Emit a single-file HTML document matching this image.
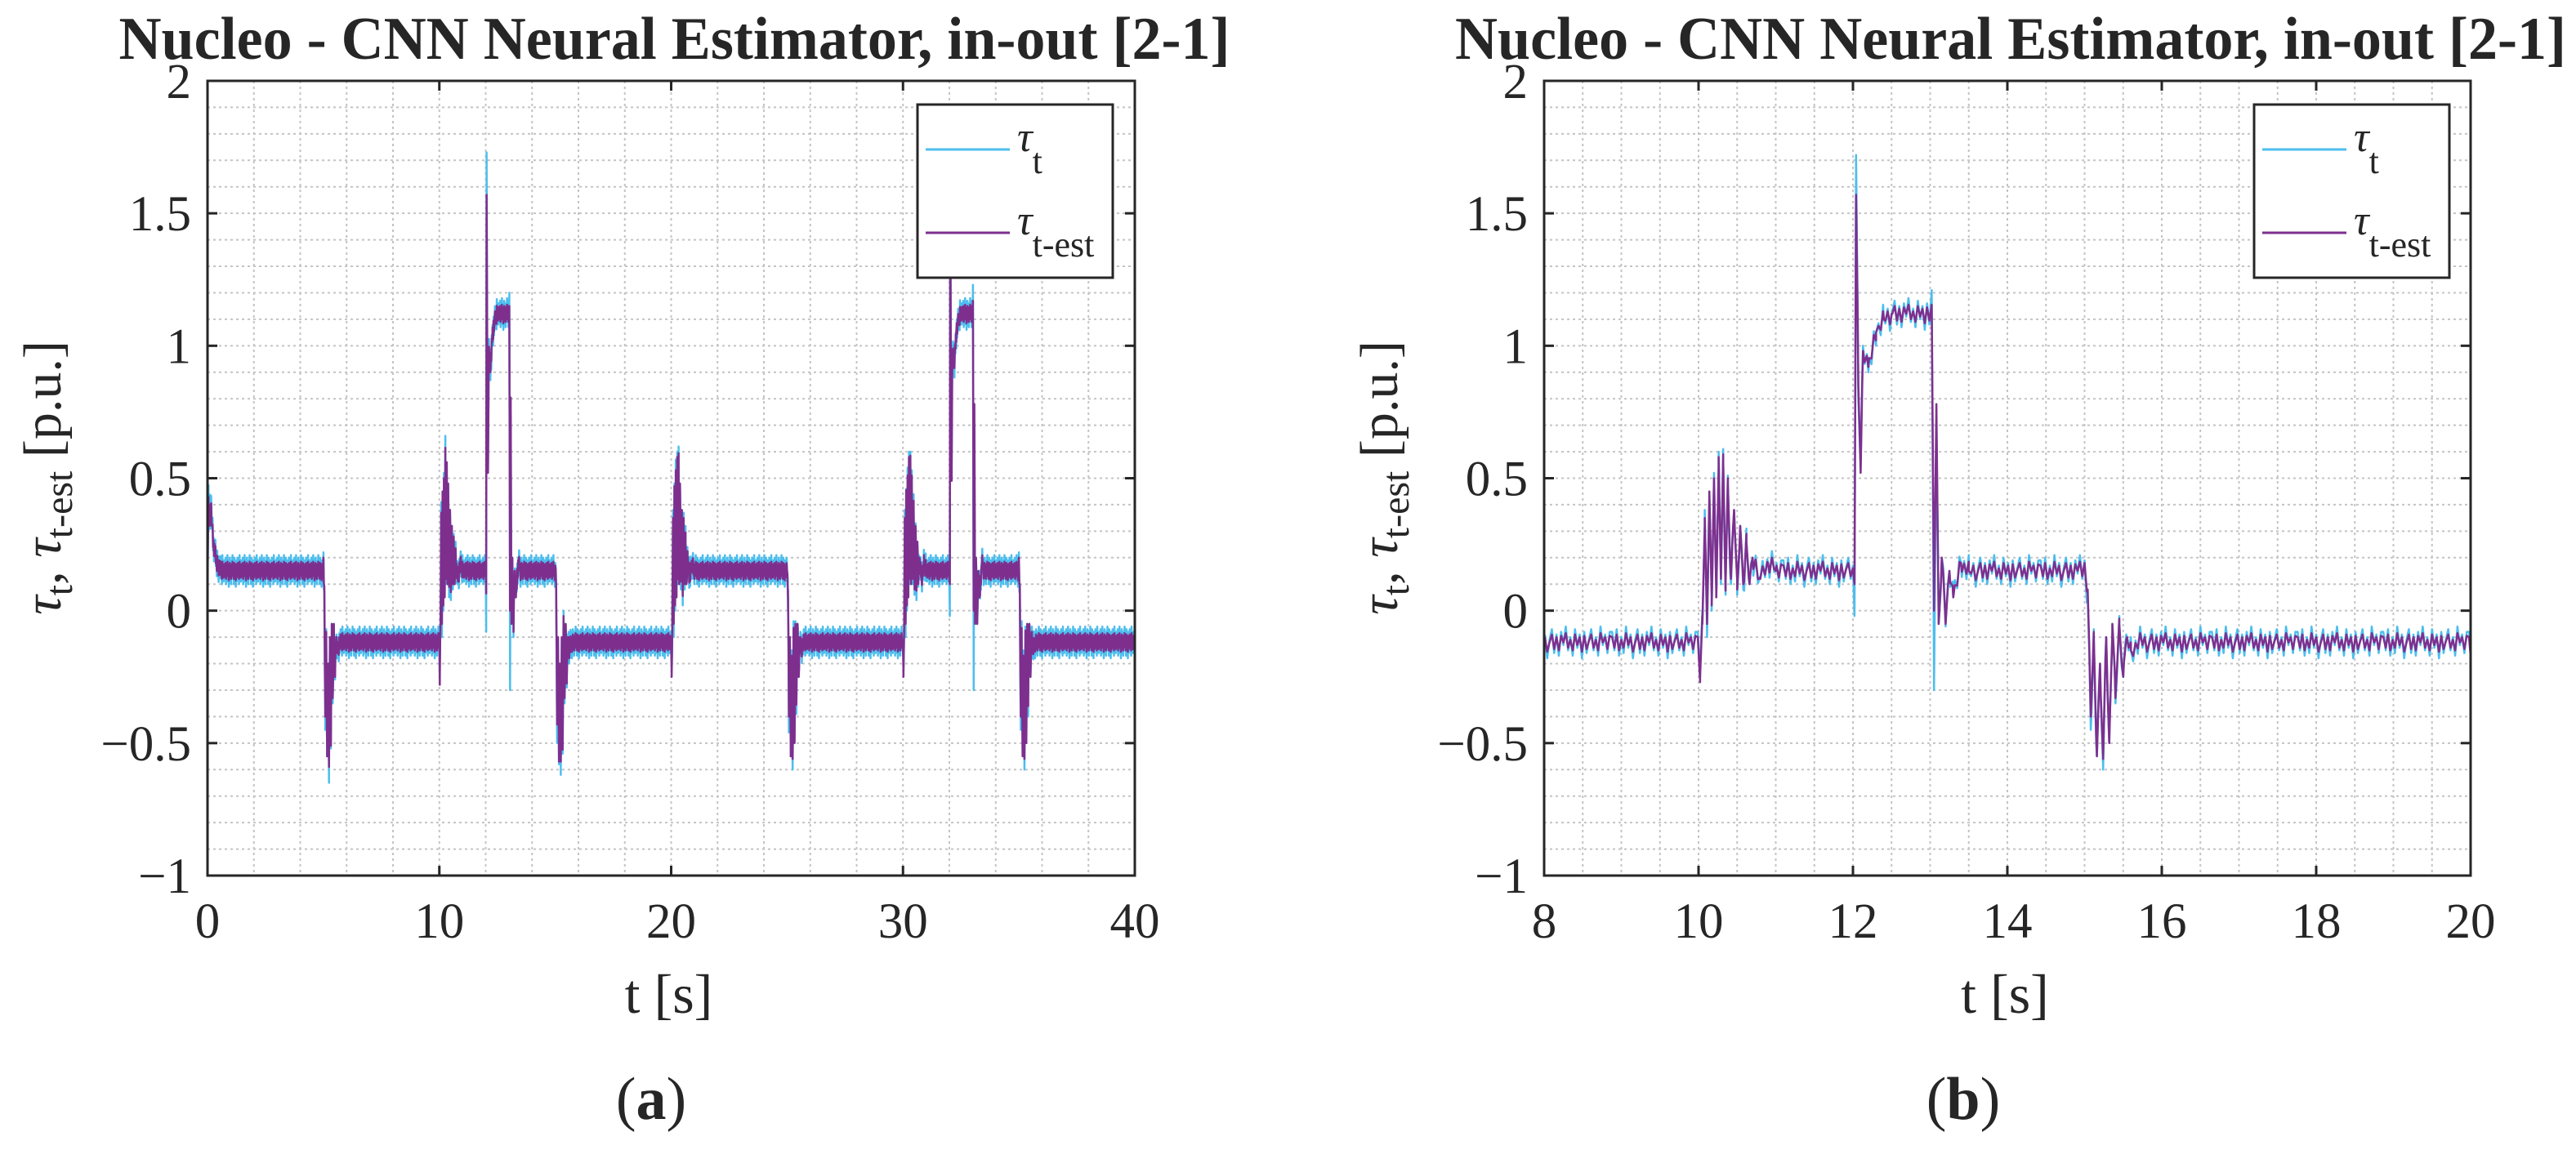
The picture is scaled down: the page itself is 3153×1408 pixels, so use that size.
<!DOCTYPE html>
<html><head><meta charset="utf-8">
<style>
html,body{margin:0;padding:0;background:#fff;}
svg{display:block;}
text{font-family:"Liberation Serif",serif;fill:#262626;}
</style></head>
<body>
<svg id="fig" width="3153" height="1408" viewBox="0 0 3153 1408" xmlns="http://www.w3.org/2000/svg">
</svg>
<script>
// ---- data (shared signal, shown in two views) ----
const eventTimes = [0, 5, 10, 12, 13, 15, 20, 25, 30, 32, 33, 35];
const eventTypes = ['start','drop','rise','up','down','drop','rise','drop','rise','up','down','drop'];

const startOff = [0, 0.03, 0.08, 0.15, 0.25, 0.4, 0.6];
const startValTrue = [0.0, 0.45, 0.32, 0.42, 0.25, 0.18, 0.15];
const startValEst = [0.08, 0.42, 0.32, 0.40, 0.25, 0.18, 0.15];

const dropOff = [0, 0.04, 0.08, 0.12, 0.16, 0.2, 0.24, 0.28, 0.32, 0.36, 0.4, 0.45, 0.5, 0.55, 0.6, 0.7];
const dropValTrue = [0.17, 0.05, -0.45, -0.1, -0.55, -0.2, -0.6, -0.1, -0.5, -0.05, -0.35, -0.05, -0.25, -0.1, -0.15, -0.12];
const dropValEst = [0.17, 0.08, -0.4, -0.1, -0.55, -0.2, -0.56, -0.1, -0.5, -0.05, -0.33, -0.05, -0.25, -0.1, -0.15, -0.12];

const riseOff = [0, 0.02, 0.05, 0.08, 0.11, 0.14, 0.17, 0.2, 0.23, 0.26, 0.29, 0.32, 0.35, 0.38, 0.42, 0.46, 0.5, 0.54, 0.58, 0.62, 0.66, 0.7, 0.8, 0.9, 1.0];
const riseValTrue = [-0.12, -0.22, -0.05, 0.38, -0.1, 0.45, 0.0, 0.52, 0.05, 0.6, 0.1, 0.56, 0.1, 0.48, 0.1, 0.38, 0.06, 0.32, 0.08, 0.26, 0.1, 0.2, 0.12, 0.18, 0.15];
const riseValEst = [-0.12, -0.25, -0.05, 0.35, -0.05, 0.45, 0.02, 0.5, 0.05, 0.58, 0.12, 0.56, 0.1, 0.48, 0.12, 0.38, 0.08, 0.32, 0.1, 0.26, 0.1, 0.2, 0.12, 0.18, 0.15];

const upOff = [0, 0.02, 0.04, 0.07, 0.1, 0.13, 0.2, 0.3, 0.4, 0.5];
const upValTrue = [0.15, -0.02, 1.72, 0.8, 0.55, 1.0, 0.9, 1.05, 1.1, 1.12];
const upValEst = [0.15, 0.1, 1.57, 0.85, 0.52, 0.98, 0.92, 1.05, 1.1, 1.12];

const downOff = [0, 0.02, 0.05, 0.08, 0.11, 0.15, 0.2, 0.25, 0.3, 0.4, 0.5];
const downValTrue = [1.12, 1.2, -0.3, 0.7, -0.05, 0.2, -0.05, 0.15, 0.05, 0.18, 0.15];
const downValEst = [1.12, 1.15, 0.0, 0.78, -0.05, 0.2, -0.05, 0.15, 0.05, 0.18, 0.15];

const noiseTrue = [0.04,-0.03,0.05,-0.05,0.02,-0.04,0.06,-0.02,0.03,-0.06,0.01,0.05,-0.04,0.03,-0.05,0.04,-0.01,0.06,-0.03,0.02,-0.05,0.05,-0.02,0.03,-0.06,0.04,-0.04,0.01,0.05,-0.03,0.02,-0.05,0.06,-0.01,0.03,-0.04,0.04];
const noiseEst = [0.02,-0.02,0.03,-0.03,0.01,-0.02,0.035,-0.01,0.02,-0.035,0.0,0.03,-0.025,0.02,-0.03,0.025,0.0,0.035,-0.02,0.01,-0.03,0.03,-0.01,0.02,-0.035,0.025,-0.025,0.005,0.03,-0.02,0.01,-0.03,0.035,0.0,0.02,-0.025,0.025];

const yTicks = [-1, -0.5, 0, 0.5, 1, 1.5, 2];
const yTickLabels = ['\u22121', '\u22120.5', '0', '0.5', '1', '1.5', '2'];
const leftXTicks = [0, 10, 20, 30, 40];
const leftXTickLabels = ['0', '10', '20', '30', '40'];
const rightXTicks = [8, 10, 12, 14, 16, 18, 20];
const rightXTickLabels = ['8', '10', '12', '14', '16', '18', '20'];

// ---- drawing ----
const NS = 'http://www.w3.org/2000/svg';
const svg = document.getElementById('fig');
function mk(tag, attrs, parent) {
  const e = document.createElementNS(NS, tag);
  for (const k in attrs) e.setAttribute(k, attrs[k]);
  (parent || svg).appendChild(e);
  return e;
}
function tpl(type, series) {
  const T = series === 'true';
  if (type === 'start') return [startOff, T ? startValTrue : startValEst];
  if (type === 'drop') return [dropOff, T ? dropValTrue : dropValEst];
  if (type === 'rise') return [riseOff, T ? riseValTrue : riseValEst];
  if (type === 'up') return [upOff, T ? upValTrue : upValEst];
  return [downOff, T ? downValTrue : downValEst];
}
function baseValue(t, series) {
  let i = 0;
  for (let k = 0; k < eventTimes.length; k++) if (eventTimes[k] <= t + 1e-9) i = k;
  const [off, val] = tpl(eventTypes[i], series);
  const o = t - eventTimes[i];
  if (o >= off[off.length - 1]) return val[val.length - 1];
  for (let j = 0; j < off.length - 1; j++) {
    if (o >= off[j] - 1e-9 && o <= off[j + 1]) {
      const f = Math.max(0, (o - off[j]) / (off[j + 1] - off[j]));
      return val[j] + f * (val[j + 1] - val[j]);
    }
  }
  return val[0];
}
function seriesPoints(series, t0, t1, dt) {
  const noise = series === 'true' ? noiseTrue : noiseEst;
  const pts = [];
  const n0 = Math.round(t0 / dt), n1 = Math.round(t1 / dt);
  for (let n = n0; n <= n1; n++) {
    const t = n * dt;
    pts.push([t, baseValue(t, series) + noise[n % noise.length]]);
  }
  // include template breakpoints so transient peaks are never skipped
  eventTimes.forEach((et, i) => {
    const [off] = tpl(eventTypes[i], series);
    off.forEach((o, j) => {
      const t = et + o;
      if (t > t0 && t < t1 && j > 0) pts.push([t, baseValue(t, series)]);
    });
  });
  pts.sort((a, b) => a[0] - b[0]);
  return pts;
}

function drawPanel(cfg) {
  const g = mk('g', {});
  
  
  const L = cfg.x0, R = cfg.x1, T = 99, B = 1072;
  const sx = v => L + (v - cfg.xmin) / (cfg.xmax - cfg.xmin) * (R - L);
  const sy = v => B - (v + 1) / 3 * (B - T);
  mk('rect', {x: L, y: T, width: R - L, height: B - T, fill: '#fff'}, g);
  const grid = mk('g', {stroke: '#c4c4c4', 'stroke-width': 2, 'stroke-dasharray': '3,4'}, g);
  
  
  for (let v = cfg.xmin + cfg.minorX; v < cfg.xmax - 1e-9; v += cfg.minorX)
    mk('line', {x1: sx(v), x2: sx(v), y1: T, y2: B}, grid);
  for (let k = 1; k < 30; k++) {
    const v = -1 + k * 0.1;
    mk('line', {x1: L, x2: R, y1: sy(v), y2: sy(v)}, grid);
  }
  const clipId = 'clip-' + cfg.name;
  const cp = mk('clipPath', {id: clipId}, g);
  mk('rect', {x: L, y: T, width: R - L, height: B - T}, cp);
  const sers = [['true', '#4DBEEE', 'series-tau-t'], ['est', '#7E2F8E', 'series-tau-t-est']];
  for (const [s, col, nm] of sers) {
    const pts = seriesPoints(s, cfg.xmin, cfg.xmax, cfg.dt);
    const d = pts.map((p, i) => (i ? 'L' : 'M') + sx(p[0]).toFixed(1) + ' ' + sy(p[1]).toFixed(1)).join('');
    const p = mk('path', {d: d, fill: 'none', stroke: col, 'stroke-width': cfg.lw, 'stroke-linejoin': 'round', 'clip-path': 'url(#' + clipId + ')'}, g);
    
    
  }
  const fr = mk('rect', {x: L, y: T, width: R - L, height: B - T, fill: 'none', stroke: '#262626', 'stroke-width': 3}, g);
  
  
  const tk = mk('g', {stroke: '#262626', 'stroke-width': 3}, g);
  cfg.xt.forEach((v, i) => {
    mk('line', {x1: sx(v), x2: sx(v), y1: B, y2: B - 12}, tk);
    mk('line', {x1: sx(v), x2: sx(v), y1: T, y2: T + 12}, tk);
    const t = mk('text', {x: sx(v), y: 1148, 'font-size': 61, 'text-anchor': 'middle'}, g);
    t.textContent = cfg.xl[i];
    
    
  });
  yTicks.forEach((v, i) => {
    mk('line', {x1: L, x2: L + 12, y1: sy(v), y2: sy(v)}, tk);
    mk('line', {x1: R, x2: R - 12, y1: sy(v), y2: sy(v)}, tk);
    const t = mk('text', {x: L - 20, y: sy(v) + 21, 'font-size': 61, 'text-anchor': 'end'}, g);
    t.textContent = yTickLabels[i];
    
    
  });
  const cx = (L + R) / 2;
  const ti = mk('text', {x: cx + 4, y: 72, 'font-size': 74, 'font-weight': 'bold', 'text-anchor': 'middle', textLength: 1360, lengthAdjust: 'spacingAndGlyphs', fill: '#000'}, g);
  ti.textContent = 'Nucleo - CNN Neural Estimator, in-out [2-1]';
  
  
  const xt = mk('text', {x: cx - 3, y: 1240, 'font-size': 68, 'text-anchor': 'middle'}, g);
  xt.textContent = 't [s]';
  
  
  const yl = mk('text', {x: 0, y: 0, 'font-size': 66, 'text-anchor': 'middle', transform: 'translate(' + (L - 180) + ',585) rotate(-90)'}, g);
  
  
  yl.innerHTML = '<tspan font-style="italic">\u03C4</tspan><tspan font-size="48" dy="14">t</tspan><tspan dy="-14">, </tspan><tspan font-style="italic">\u03C4</tspan><tspan font-size="48" dy="14">t-est</tspan><tspan dy="-14"> [p.u.]</tspan>';
  const cap = mk('text', {x: cfg.capX, y: 1370, 'font-size': 74, 'text-anchor': 'middle', fill: '#000'}, g);
  cap.innerHTML = '(<tspan font-weight="bold">' + cfg.cap + '</tspan>)';
  
  
  const lx = L + 869;
  const lg = mk('g', {}, g);
  
  
  mk('rect', {x: lx, y: 128, width: 239, height: 212, fill: '#fff', stroke: '#262626', 'stroke-width': 3}, lg);
  const ents = [['#4DBEEE', 183, 't'], ['#7E2F8E', 285, 't-est']];
  for (const [col, yy, sub] of ents) {
    const e = mk('g', {}, lg);
    
    
    mk('line', {x1: lx + 10, x2: lx + 113, y1: yy, y2: yy, stroke: col, 'stroke-width': 3}, e);
    const tt = mk('text', {x: lx + 122, y: yy + 2, 'font-size': 52}, e);
    tt.innerHTML = '<tspan font-style="italic">\u03C4</tspan><tspan font-size="44" dy="27">' + sub + '</tspan>';
  }
}

drawPanel({name: 'panel-a', x0: 254, x1: 1389, xmin: 0, xmax: 40, minorX: 2, xt: leftXTicks, xl: leftXTickLabels, cap: 'a', capX: 797, lw: 2.5, dt: 0.02});
drawPanel({name: 'panel-b', x0: 1890, x1: 3024, xmin: 8, xmax: 20, minorX: 0.5, xt: rightXTicks, xl: rightXTickLabels, cap: 'b', capX: 2403, lw: 2.5, dt: 0.03});
</script>
</body></html>
